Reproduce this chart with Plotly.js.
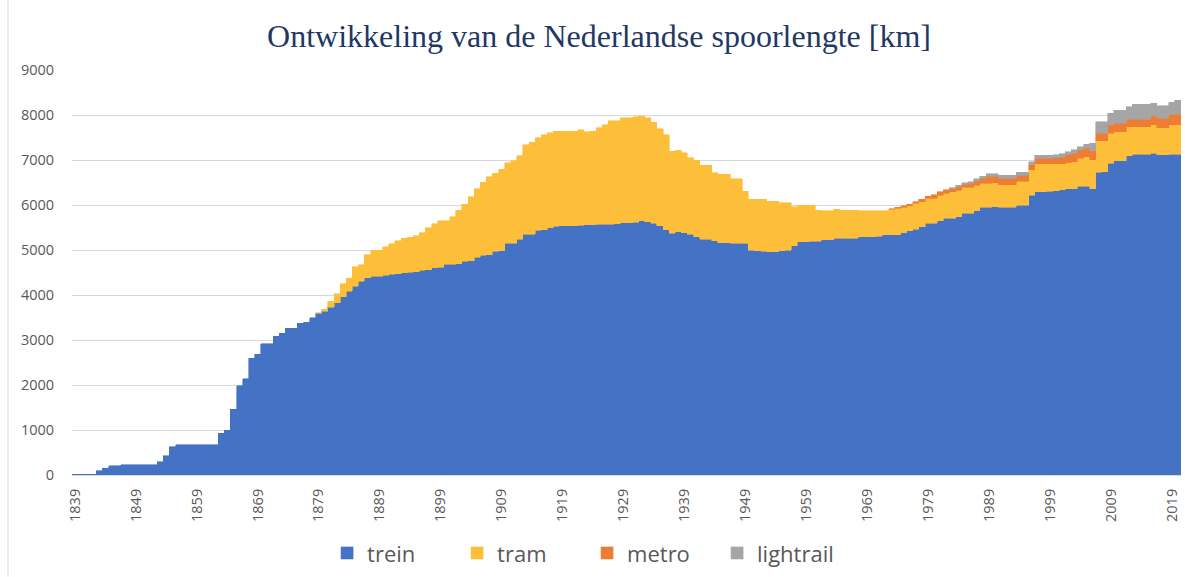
<!DOCTYPE html>
<html>
<head>
<meta charset="utf-8">
<script src="https://cdn.plot.ly/plotly-3.0.1.min.js"></script>
<style>
html, body { margin: 0; padding: 0; background: #ffffff; }
#chart { width: 1185px; height: 577px; }
</style>
</head>
<body>
<div id="chart"></div>
<script>
// Years (categories)
const years = [
1839,1840,1841,1842,1843,1844,1845,1846,1847,1848,
1849,1850,1851,1852,1853,1854,1855,1856,1857,1858,
1859,1860,1861,1862,1863,1864,1865,1866,1867,1868,
1869,1870,1871,1872,1873,1874,1875,1876,1877,1878,
1879,1880,1881,1882,1883,1884,1885,1886,1887,1888,
1889,1890,1891,1892,1893,1894,1895,1896,1897,1898,
1899,1900,1901,1902,1903,1904,1905,1906,1907,1908,
1909,1910,1911,1912,1913,1914,1915,1916,1917,1918,
1919,1920,1921,1922,1923,1924,1925,1926,1927,1928,
1929,1930,1931,1932,1933,1934,1935,1936,1937,1938,
1939,1940,1941,1942,1943,1944,1945,1946,1947,1948,
1949,1950,1951,1952,1953,1954,1955,1956,1957,1958,
1959,1960,1961,1962,1963,1964,1965,1966,1967,1968,
1969,1970,1971,1972,1973,1974,1975,1976,1977,1978,
1979,1980,1981,1982,1983,1984,1985,1986,1987,1988,
1989,1990,1991,1992,1993,1994,1995,1996,1997,1998,
1999,2000,2001,2002,2003,2004,2005,2006,2007,2008,
2009,2010,2011,2012,2013,2014,2015,2016,2017,2018,
2019,2020];

// Track length in km per year
const trein = [
16,16,16,22,96,154,206,206,228,228,
228,228,228,228,294,426,632,676,676,676,
676,676,676,676,926,1000,1456,1985,2140,2590,
2680,2915,2920,3089,3148,3258,3258,3369,3399,3494,
3590,3642,3731,3827,3959,4085,4192,4306,4380,4417,
4417,4440,4465,4475,4500,4510,4520,4555,4565,4610,
4615,4680,4686,4690,4755,4765,4834,4880,4890,4975,
4985,5145,5155,5240,5345,5355,5440,5450,5498,5530,
5535,5535,5540,5555,5557,5560,5570,5572,5575,5578,
5605,5609,5612,5646,5624,5594,5535,5446,5373,5410,
5387,5351,5299,5240,5238,5203,5166,5160,5151,5150,
5148,4990,4985,4970,4960,4960,4980,5000,5090,5180,
5185,5190,5200,5225,5225,5262,5262,5262,5265,5299,
5299,5300,5302,5336,5336,5340,5387,5432,5461,5520,
5594,5594,5653,5705,5705,5742,5815,5815,5875,5948,
5955,5963,5945,5945,5950,5993,5993,6212,6290,6300,
6307,6320,6340,6358,6360,6416,6420,6358,6729,6735,
6928,6980,6980,7098,7128,7128,7128,7150,7113,7113,
7128,7128];

const tram = [
0,0,0,0,0,0,0,0,0,0,
0,0,0,0,0,0,0,0,0,0,
0,0,0,0,0,0,0,0,0,0,
0,0,0,0,0,0,0,0,0,0,
15,40,132,199,288,291,432,369,516,576,
576,630,675,730,760,775,794,832,933,977,
1031,966,1056,1192,1260,1420,1528,1629,1737,1726,
1805,1792,1834,1860,1998,2040,2051,2115,2103,2108,
2103,2103,2098,2120,2067,2078,2142,2214,2300,2297,
2329,2325,2344,2324,2310,2244,2155,2119,1823,1808,
1772,1697,1697,1638,1640,1513,1513,1519,1432,1433,
1162,1135,1140,1155,1129,1129,1072,1052,873,820,
815,810,689,650,650,649,627,627,624,568,
568,567,565,531,568,586,561,546,576,554,
554,554,568,553,590,590,576,576,568,532,
525,537,508,508,503,533,533,569,625,615,
608,595,575,585,605,623,656,644,695,690,
665,650,650,643,613,613,613,628,606,606,
650,650];

const metro = [
0,0,0,0,0,0,0,0,0,0,
0,0,0,0,0,0,0,0,0,0,
0,0,0,0,0,0,0,0,0,0,
0,0,0,0,0,0,0,0,0,0,
0,0,0,0,0,0,0,0,0,0,
0,0,0,0,0,0,0,0,0,0,
0,0,0,0,0,0,0,0,0,0,
0,0,0,0,0,0,0,0,0,0,
0,0,0,0,0,0,0,0,0,0,
0,0,0,0,0,0,0,0,0,0,
0,0,0,0,0,0,0,0,0,0,
0,0,0,0,0,0,0,0,0,0,
0,0,0,0,0,0,0,0,0,0,
0,0,0,0,10,22,30,44,37,51,
52,76,69,82,70,78,69,94,97,115,
155,140,140,140,140,130,130,115,125,125,
125,135,150,170,185,185,200,200,169,169,
185,185,185,163,163,163,163,207,207,207,
237,237];

const lightrail = [
0,0,0,0,0,0,0,0,0,0,
0,0,0,0,0,0,0,0,0,0,
0,0,0,0,0,0,0,0,0,0,
0,0,0,0,0,0,0,0,0,0,
0,0,0,0,0,0,0,0,0,0,
0,0,0,0,0,0,0,0,0,0,
0,0,0,0,0,0,0,0,0,0,
0,0,0,0,0,0,0,0,0,0,
0,0,0,0,0,0,0,0,0,0,
0,0,0,0,0,0,0,0,0,0,
0,0,0,0,0,0,0,0,0,0,
0,0,0,0,0,0,0,0,0,0,
0,0,0,0,0,0,0,0,0,0,
0,0,0,0,0,0,0,0,0,0,
0,0,0,0,20,25,30,35,40,45,
55,60,67,67,67,69,69,68,65,65,
70,70,74,74,74,74,74,170,259,259,
259,296,296,281,333,333,333,274,281,281,
266,318];

const xTicks = [1839,1849,1859,1869,1879,1889,1899,1909,1919,1929,1939,1949,1959,1969,1979,1989,1999,2009,2019];
const yTicks = [0,1000,2000,3000,4000,5000,6000,7000,8000,9000];

const seriesNames = ['trein','tram','metro','lightrail'];
const seriesColors = ['#4472C4','#FDBE3A','#ED7D31','#A5A5A5'];
const seriesData = [trein, tram, metro, lightrail];

const traces = seriesData.map((vals, i) => ({
  type: 'bar',
  name: seriesNames[i],
  x: years,
  // zero-length segments are left out so no outline is drawn for them
  y: vals.map(v => (v === 0 ? null : v)),
  width: 1,
  marker: { color: seriesColors[i], line: { color: seriesColors[i], width: 0.6 } },
  hoverinfo: 'x+y+name'
}));

const layout = {
  width: 1185,
  height: 577,
  paper_bgcolor: '#ffffff',
  plot_bgcolor: '#ffffff',
  barmode: 'stack',
  bargap: 0,
  margin: { l: 72, r: 4, t: 70, b: 101, pad: 0 },
  title: {
    text: 'Ontwikkeling van de Nederlandse spoorlengte [km]',
    font: { family: 'Liberation Serif, Times New Roman, serif', size: 32, color: '#1F3864' },
    x: 0.5055, xanchor: 'center', xref: 'container',
    y: 0.938, yanchor: 'middle', yref: 'container'
  },
  xaxis: {
    type: 'linear',
    range: [1838.5, 2020.5],
    tickmode: 'array',
    tickvals: xTicks,
    ticktext: xTicks.map(String),
    tickangle: -90,
    ticks: 'outside',
    ticklen: 7,
    tickcolor: 'rgba(0,0,0,0)',
    showgrid: false,
    zeroline: false,
    showline: true,
    linecolor: '#D9D9D9',
    linewidth: 1,
    tickfont: { family: 'Open Sans, Liberation Sans, sans-serif', size: 14.5, color: '#595959' },
    automargin: false,
    fixedrange: true
  },
  yaxis: {
    range: [0, 9000],
    tickmode: 'array',
    tickvals: yTicks,
    ticktext: yTicks.map(String),
    ticks: 'outside',
    ticklen: 14,
    tickcolor: 'rgba(0,0,0,0)',
    showgrid: true,
    gridcolor: '#D9D9D9',
    gridwidth: 1,
    zeroline: false,
    showline: false,
    tickfont: { family: 'Open Sans, Liberation Sans, sans-serif', size: 14.5, color: '#595959' },
    automargin: false,
    fixedrange: true
  },
  legend: {
    orientation: 'h',
    x: 0.23, xanchor: 'left',
    y: -0.19, yanchor: 'middle',
    font: { family: 'Open Sans, Liberation Sans, sans-serif', size: 22, color: '#595959' },
    entrywidth: 85,
    entrywidthmode: 'pixels',
    bgcolor: 'rgba(0,0,0,0)',
    traceorder: 'normal'
  },
  shapes: [{
    type: 'line', xref: 'paper', yref: 'paper',
    x0: -0.0577, x1: -0.0577, y0: -0.25, y1: 1.18,
    line: { color: '#D9D9D9', width: 1 }
  }],
  showlegend: true
};

Plotly.newPlot('chart', traces, layout, { displayModeBar: false, staticPlot: true });
</script>
</body>
</html>
